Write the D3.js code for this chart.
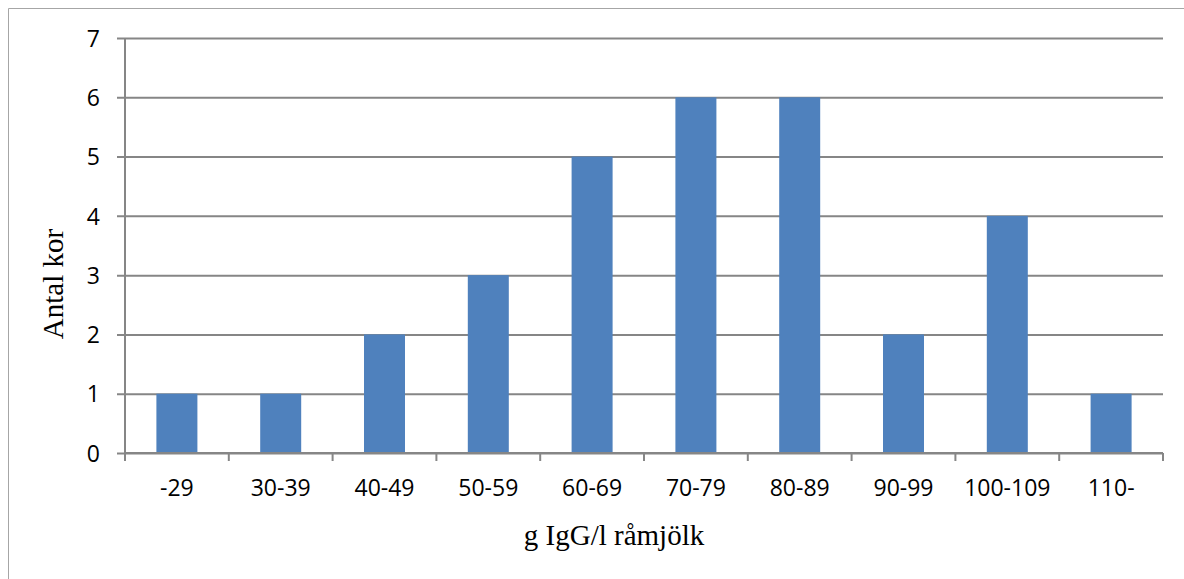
<!DOCTYPE html>
<html>
  <head>
    <meta charset="utf-8">
    <title>Antal kor per IgG-klass</title>
<style>
  body { margin: 0; background-color: #fff; }
  #viz svg { display: block; }
  #viz .tick text { font-family: "Open Sans", sans-serif; font-size: 23px; fill: #000; }
  #viz .axis-title { font-family: "Liberation Serif", "Times New Roman", serif; font-size: 29px; fill: #000; }
</style>
  </head>
  <body>
    <div id="viz"></div>

  <script src="https://cdn.jsdelivr.net/npm/d3@7/dist/d3.min.js"></script>
  <script>
    // categories (g IgG/l) and number of cows in each
    var classes = ["-29", "30-39", "40-49", "50-59", "60-69", "70-79", "80-89", "90-99", "100-109", "110-"]
    var cows = [1, 1, 2, 3, 5, 6, 6, 2, 4, 1]
    var yTicks = [0, 1, 2, 3, 4, 5, 6, 7]

    var W = 1184, H = 579
    var margin = {top: 38, right: 21, bottom: 126, left: 125},
        width = W - margin.left - margin.right,
        height = H - margin.top - margin.bottom

    var gridColor = "#868686"

    var svg = d3.select("#viz").append("svg")
        .attr("width", W)
        .attr("height", H)

    // chart frame (only left and top edges show in the picture)
    svg.append("path")
        .attr("d", "M8.5," + H + "V8.5H" + W)
        .attr("fill", "none")
        .attr("stroke", "#a6a6a6")
        .attr("stroke-width", 1)

    var g = svg.append("g")
        .attr("transform", "translate(" + margin.left + "," + margin.top + ")")

    var x = d3.scaleBand()
        .domain(classes)
        .range([0, width])
        .paddingInner(0.605)
        .paddingOuter(0.3025)

    var xb = d3.scaleBand().domain(classes).range([0, width])

    var y = d3.scaleLinear()
        .domain([0, 7])
        .range([height, 0])

    // y axis with gridlines
    var yAxis = g.append("g")
        .attr("class", "y-axis")
        .call(d3.axisLeft(y).tickValues(yTicks).tickFormat(d3.format("d"))
          .tickSizeInner(-width).tickSizeOuter(0).tickPadding(25))
    yAxis.select(".domain").remove()
    yAxis.selectAll("line").attr("stroke", gridColor).attr("stroke-width", 2).attr("x1", -8)
    yAxis.selectAll("text").attr("dy", "0.36em")

    // bars
    g.selectAll(".bar")
        .data(cows)
      .enter().append("rect")
        .attr("class", "bar")
        .attr("fill", "#4f81bd")
        .attr("x", function(d, i) { return x(classes[i]); })
        .attr("width", x.bandwidth())
        .attr("y", function(d) { return y(d); })
        .attr("height", function(d) { return height - y(d); })

    // vertical axis line
    g.append("line")
        .attr("x1", 0).attr("x2", 0)
        .attr("y1", 0).attr("y2", height + 8)
        .attr("stroke", gridColor)
        .attr("stroke-width", 2)

    // x axis: ticks at category boundaries
    var xAxis = g.append("g")
        .attr("class", "x-axis")
        .attr("transform", "translate(0," + height + ")")
    xAxis.append("line")
        .attr("x1", 0).attr("x2", width)
        .attr("stroke", gridColor)
        .attr("stroke-width", 2)
    xAxis.selectAll(".xt")
        .data(classes.concat(["end"]))
      .enter().append("line")
        .attr("class", "xt")
        .attr("x1", function(d, i) { return i * xb.step(); })
        .attr("x2", function(d, i) { return i * xb.step(); })
        .attr("y1", 0).attr("y2", 8)
        .attr("stroke", gridColor)
        .attr("stroke-width", 2)
    xAxis.selectAll(".tick")
        .data(classes)
      .enter().append("g")
        .attr("class", "tick")
        .attr("transform", function(d) { return "translate(" + (xb(d) + xb.bandwidth() / 2) + ",0)"; })
      .append("text")
        .attr("y", 43)
        .style("text-anchor", "middle")
        .text(function(d) { return d; })

    // axis titles
    svg.append("text")
        .attr("class", "axis-title")
        .attr("transform", "translate(63,284) rotate(-90)")
        .style("text-anchor", "middle")
        .text("Antal kor")

    svg.append("text")
        .attr("class", "axis-title")
        .attr("x", 614)
        .attr("y", 545)
        .style("text-anchor", "middle")
        .text("g IgG/l råmjölk")
  </script>
  </body>
</html>
